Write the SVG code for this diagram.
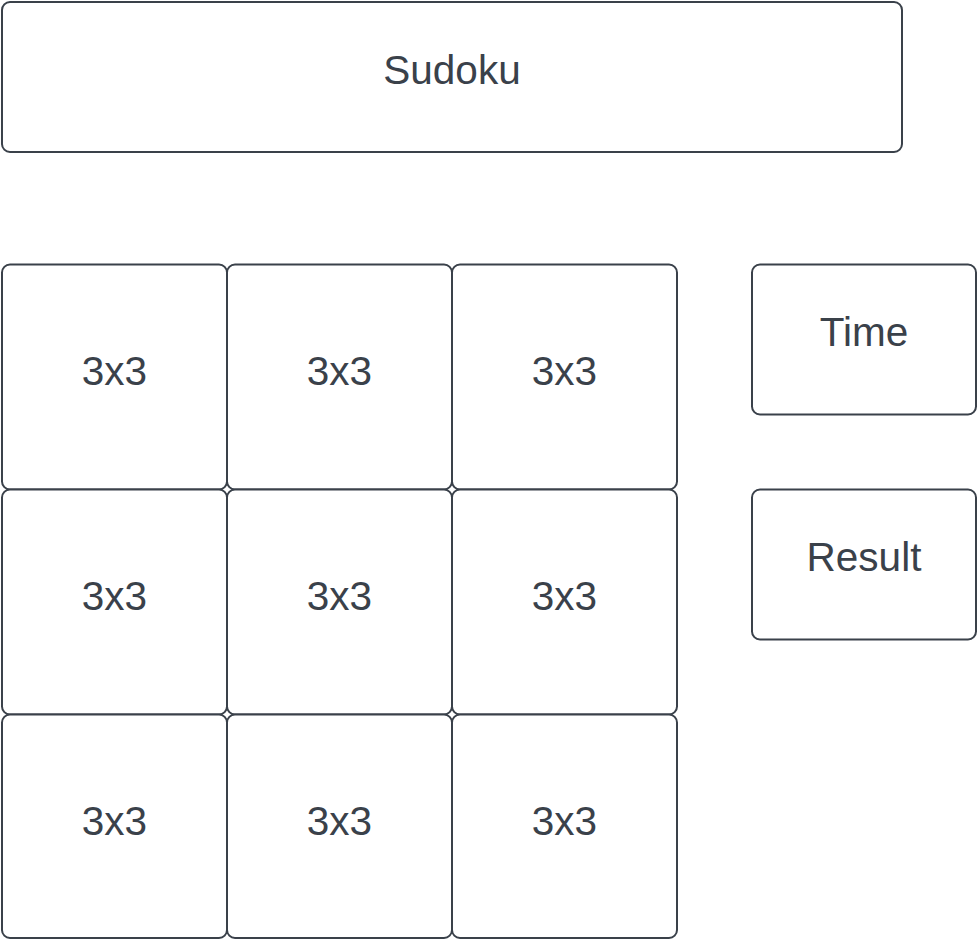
<svg xmlns="http://www.w3.org/2000/svg" width="977" height="939" viewBox="0 0 977 939">
<style>
.box{fill:#ffffff;stroke:#3a414a;stroke-width:2}
.lbl{font-family:"Liberation Sans",Arial,sans-serif;font-size:40.5px;fill:#3a414a;text-anchor:middle}
</style>
<rect width="977" height="939" fill="#ffffff"/>
<g id="title"><rect class="box" x="2" y="2" width="900" height="150" rx="8"/><text class="lbl" x="452" y="84">Sudoku</text></g>
<g id="c11"><rect class="box" x="2" y="264.5" width="225" height="225" rx="8"/><text class="lbl" x="114.5" y="385">3x3</text></g>
<g id="c12"><rect class="box" x="227" y="264.5" width="225" height="225" rx="8"/><text class="lbl" x="339.5" y="385">3x3</text></g>
<g id="c13"><rect class="box" x="452" y="264.5" width="225" height="225" rx="8"/><text class="lbl" x="564.5" y="385">3x3</text></g>
<g id="c21"><rect class="box" x="2" y="489.5" width="225" height="225" rx="8"/><text class="lbl" x="114.5" y="610">3x3</text></g>
<g id="c22"><rect class="box" x="227" y="489.5" width="225" height="225" rx="8"/><text class="lbl" x="339.5" y="610">3x3</text></g>
<g id="c23"><rect class="box" x="452" y="489.5" width="225" height="225" rx="8"/><text class="lbl" x="564.5" y="610">3x3</text></g>
<g id="c31"><rect class="box" x="2" y="714.5" width="225" height="223.5" rx="8"/><text class="lbl" x="114.5" y="835">3x3</text></g>
<g id="c32"><rect class="box" x="227" y="714.5" width="225" height="223.5" rx="8"/><text class="lbl" x="339.5" y="835">3x3</text></g>
<g id="c33"><rect class="box" x="452" y="714.5" width="225" height="223.5" rx="8"/><text class="lbl" x="564.5" y="835">3x3</text></g>
<g id="time"><rect class="box" x="752" y="264.5" width="224" height="150" rx="8"/><text class="lbl" x="864" y="346">Time</text></g>
<g id="result"><rect class="box" x="752" y="489.5" width="224" height="150" rx="8"/><text class="lbl" x="864" y="571">Result</text></g>
<g id="connectors"></g>
</svg>
